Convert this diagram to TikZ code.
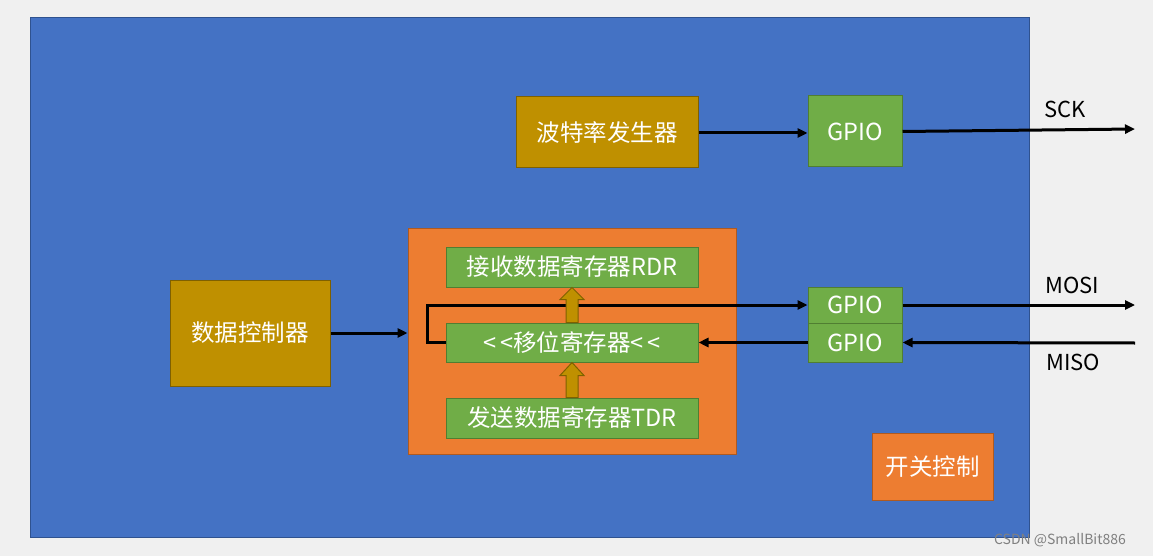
\documentclass[tikz,border=0pt]{standalone}
\usepackage{fontspec}
\setmainfont{Noto Sans CJK SC}
\usetikzlibrary{arrows.meta,calc}

\definecolor{bgray}{HTML}{F0F0F0}
\definecolor{chipblue}{HTML}{4472C4}
\definecolor{chipline}{HTML}{2F528F}
\definecolor{gold}{HTML}{BF9000}
\definecolor{goldline}{HTML}{7F6000}
\definecolor{leaf}{HTML}{70AD47}
\definecolor{leafline}{HTML}{507E32}
\definecolor{tang}{HTML}{ED7D31}
\definecolor{tangline}{HTML}{AE5A21}

\tikzset{
	box/.style={draw, line width=1pt, inner sep=0pt, text=white,
		font=\fontsize{23.5pt}{27pt}\selectfont},
	goldbox/.style={box, fill=gold, draw=goldline},
	leafbox/.style={box, fill=leaf, draw=leafline},
	tangbox/.style={box, fill=tang, draw=tangline},
	wire/.style={line width=3pt, -{Triangle[length=10pt,width=9pt]}},
	fat/.style={fill=gold, draw=goldline, line width=1pt},
	pin/.style={font=\fontsize{22pt}{26pt}\selectfont}
}

\begin{document}
\begin{tikzpicture}[x=1pt, y=-1pt]
		\useasboundingbox (0, 0) rectangle (1153, 556);
		\fill[bgray] (0, 0) rectangle (1153, 556);
		
		% the chip
		\draw[fill=chipblue, draw=chipline, line width=1pt] (30, 18) rectangle (1029, 537);
		
		\node[goldbox, minimum width=182pt, minimum height=71pt] (baud) at (607, 132.5) {波特率发生器};
		\node[leafbox, minimum width=94pt, minimum height=71pt] (gpiosck) at (855, 131.5) {GPIO};
		\node[goldbox, minimum width=160pt, minimum height=106pt] (ctrl) at (250, 333) {数据控制器};
		
		% shift register block
		\node[tangbox, minimum width=328pt, minimum height=226pt] (regs) at (572, 341) {};
		\node[leafbox, minimum width=252pt, minimum height=40pt] (rdr) at (572, 267) {接收数据寄存器RDR};
		\node[leafbox, minimum width=252pt, minimum height=39pt] (shift) at (572, 342.5) {<{}\,<移位寄存器<{}\,<};
		\node[leafbox, minimum width=252pt, minimum height=40pt] (tdr) at (572, 418) {发送数据寄存器TDR};
		
		\node[leafbox, minimum width=94pt, minimum height=36pt] (gpiomosi) at (855, 305) {GPIO};
		\node[leafbox, minimum width=94pt, minimum height=39pt] (gpiomiso) at (855, 342.5) {GPIO};
		\node[tangbox, minimum width=121pt, minimum height=67pt] (switch) at (932.5, 466.5) {开关控制};
		
		% pins outside
		\coordinate (sck) at (1135, 129);
		\coordinate (mosi) at (1135, 305);
		\coordinate (miso) at (1135, 343);
		\node[pin] (scktext) at (1065, 109) {SCK};
		\node[pin] (mositext) at (1072, 285) {MOSI};
		\node[pin] (misotext) at (1073, 362) {MISO};
		
		\draw[wire] (baud.east |- 0, 133) -- (gpiosck.west |- 0, 133);
		\draw[wire] (gpiosck.east) -- (sck);
		\draw[wire] (ctrl.east) -- (ctrl.east -| regs.west);
		\draw[wire] (shift.west) -- ++(-18, 0) |- (gpiomosi.west);
		\draw[wire] (gpiomosi.east) -- (mosi);
		\draw[wire] (miso) -- (gpiomiso.east);
		\draw[wire] (gpiomiso.west) -- (shift.east);
		
		% fat arrows: TDR -> shift -> RDR
		\draw[fat] ($(tdr.north)+(-6, 0)$) -- ($(shift.south)+(-6, 13)$) -- ($(shift.south)+(-12, 13)$)
			-- (shift.south) -- ($(shift.south)+(12, 13)$) -- ($(shift.south)+(6, 13)$) -- ($(tdr.north)+(6, 0)$) -- cycle;
		\draw[fat] ($(shift.north)+(-6, 0)$) -- ($(rdr.south)+(-6, 12)$) -- ($(rdr.south)+(-12, 12)$)
			-- (rdr.south) -- ($(rdr.south)+(12, 12)$) -- ($(rdr.south)+(6, 12)$) -- ($(shift.north)+(6, 0)$) -- cycle;
		
		\node[text=gray, font=\fontsize{14pt}{16pt}\selectfont] (mark) at (1060, 540) {CSDN @SmallBit886};
	\end{tikzpicture}
\end{document}
